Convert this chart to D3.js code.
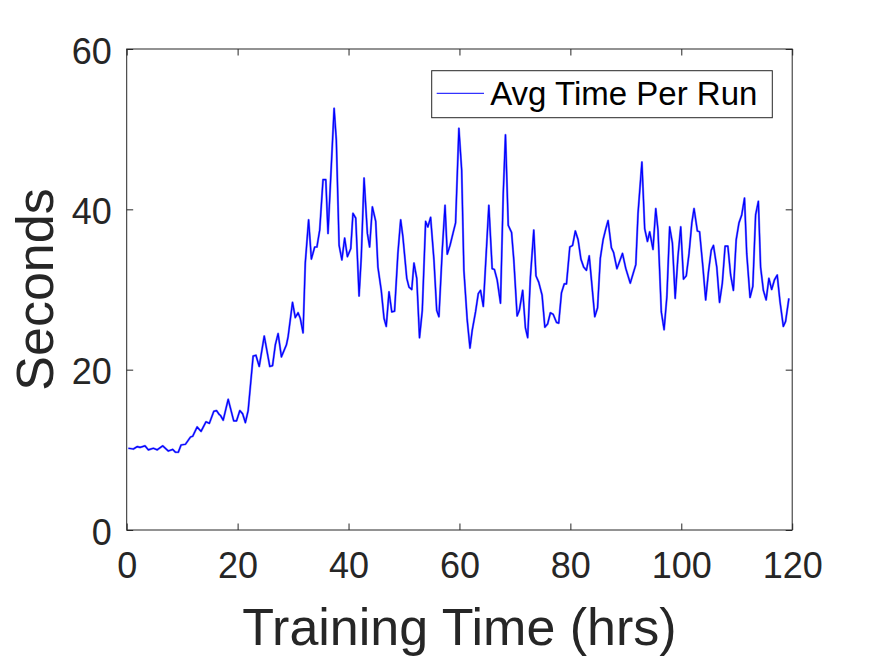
<!DOCTYPE html>
<html>
<head>
<meta charset="utf-8">
<script src="https://cdn.jsdelivr.net/npm/d3@7"></script>
<style>
  body { margin: 0; background: #fff; }
  text { font-family: "Liberation Sans", Arial, Helvetica, sans-serif; }
</style>
</head>
<body>
<svg></svg>
<script>
// размеры окна
const width = 875;
const height = 656;

// данные: время обучения (часы) и среднее время забега (сек)
const hours = [
  0.3, 1.2, 1.9, 2.4, 3.3, 3.9, 4.8, 5.5, 6.5, 7.5, 8.3, 8.8, 9.3, 9.8,
  10.6, 11.5, 11.9, 12.7, 13.4, 14.3, 14.9, 15.7, 16.2, 16.7, 16.9, 17.4,
  18.3, 19.3, 19.8, 20.4, 20.9, 21.4, 21.9, 22.8, 23.3, 23.9, 24.8, 25.8,
  26.3, 26.8, 27.3, 27.9, 28.8, 29.1, 29.9, 30.4, 30.9, 31.3, 31.8, 32.2,
  32.8, 33.3, 33.9, 34.3, 34.8, 35.4, 35.9, 36.3, 37.4, 37.8, 38.3, 38.8,
  39.3, 39.8, 40.4, 40.8, 41.3, 41.9, 42.3, 42.8, 43.4, 43.8, 44.3, 44.9,
  45.3, 45.9, 46.4, 46.8, 47.3, 47.8, 48.3, 48.9, 49.4, 49.8, 50.5, 50.9,
  51.4, 51.8, 52.3, 52.8, 53.3, 53.9, 54.3, 54.8, 55.4, 55.9, 56.3, 56.9,
  57.4, 57.8, 58.3, 58.9, 59.3, 59.9, 60.4, 60.8, 61.4, 61.9, 62.3, 62.9,
  63.4, 63.8, 64.3, 65.3, 65.9, 66.3, 66.8, 67.4, 67.9, 68.3, 68.8, 69.4,
  69.8, 70.4, 70.8, 71.4, 71.9, 72.3, 72.8, 73.4, 73.8, 74.3, 74.9, 75.4,
  75.9, 76.4, 76.9, 77.5, 77.9, 78.4, 78.9, 79.3, 79.9, 80.4, 80.9, 81.4,
  81.9, 82.4, 82.9, 83.4, 83.8, 84.4, 84.9, 85.4, 85.9, 86.4, 86.8, 87.4,
  87.8, 88.4, 89.4, 90.0, 90.8, 91.8, 92.2, 92.9, 93.4, 93.9, 94.3, 94.9,
  95.4, 95.8, 96.4, 96.9, 97.4, 97.9, 98.4, 98.9, 99.4, 99.9, 100.4, 100.9,
  101.4, 101.9, 102.3, 102.9, 103.3, 103.9, 104.4, 104.9, 105.4, 105.8,
  106.4, 106.9, 107.4, 107.9, 108.4, 108.9, 109.4, 109.9, 110.4, 110.9,
  111.4, 111.8, 112.4, 112.9, 113.4, 113.9, 114.3, 114.8, 115.3, 115.8,
  116.3, 116.8, 117.3, 117.8, 118.4, 118.8, 119.4
];
const seconds = [
  10.2, 10.1, 10.4, 10.3, 10.5, 10.0, 10.2, 10.0, 10.5, 9.85, 10.05, 9.7, 9.7, 10.6,
  10.7, 11.6, 11.7, 12.85, 12.3, 13.5, 13.3, 14.8, 14.9, 14.4, 14.3, 13.7,
  16.3, 13.6, 13.6, 14.9, 14.5, 13.4, 14.9, 21.7, 21.8, 20.4, 24.2, 20.4,
  20.5, 23.1, 24.5, 21.6, 23.1, 24.1, 28.4, 26.5, 27.1, 26.4, 24.6, 33.3,
  38.7, 33.8, 35.3, 35.3, 37.4, 43.7, 43.7, 37.0, 52.6, 48.6, 35.5, 33.7,
  36.4, 34.1, 35.1, 39.5, 38.9, 29.2, 34.1, 43.9, 37.0, 35.3, 40.3, 38.5,
  32.8, 29.9, 26.4, 25.4, 29.7, 27.2, 27.3, 34.5, 38.7, 36.6, 31.4, 30.3,
  30.0, 33.3, 31.4, 24.0, 27.4, 38.5, 37.8, 39.0, 33.7, 27.4, 26.6, 34.9,
  40.5, 34.4, 35.5, 37.2, 38.3, 50.1, 44.9, 32.4, 26.2, 22.7, 24.9, 27.2,
  29.5, 29.9, 27.9, 40.5, 32.6, 32.5, 31.2, 28.3, 42.0, 49.3, 38.0, 37.1,
  33.7, 26.7, 27.4, 29.9, 25.2, 24.0, 31.6, 37.4, 31.7, 30.9, 29.3, 25.3,
  25.7, 27.1, 26.9, 25.9, 25.8, 29.6, 30.7, 30.7, 35.3, 35.5, 37.3, 36.2,
  33.8, 32.8, 32.4, 34.2, 31.2, 26.6, 27.7, 33.9, 36.2, 37.6, 38.6, 35.2,
  34.6, 32.6, 34.5, 32.6, 30.8, 33.1, 39.5, 45.9, 37.6, 36.0, 37.2, 35.0,
  40.1, 37.4, 27.2, 25.0, 29.1, 37.8, 35.8, 28.9, 34.1, 37.8, 31.3, 31.7,
  34.5, 38.3, 40.1, 37.3, 37.2, 32.8, 28.7, 32.2, 34.9, 35.5,
  32.8, 28.4, 30.8, 35.4, 35.4, 31.8, 29.9, 36.2, 38.3, 39.3,
  41.4, 34.5, 29.0, 30.4, 39.3, 41.0, 32.8, 29.9, 28.7, 31.4,
  30.0, 31.2, 31.8, 28.5, 25.4, 26.0, 28.9
];
const xTicks = [0, 20, 40, 60, 80, 100, 120];
const yTicks = [0, 20, 40, 60];
const seriesName = "Avg Time Per Run";

const axisColor = "#262626";
const margin = { left: 126.7, right: 875 - 792.2, top: 49, bottom: 656 - 530 };
const plotW = width - margin.left - margin.right;
const plotH = height - margin.top - margin.bottom;

let svg = d3.select("svg")
    .attr("width", width)
    .attr("height", height);

let x = d3.scaleLinear().domain([0, 120]).range([0, plotW]);
let y = d3.scaleLinear().domain([0, 60]).range([plotH, 0]);

let g = svg.append("g").attr("transform", `translate(${margin.left},${margin.top})`);

// линия данных
const data = hours.map((h, i) => ({ h: h, v: seconds[i] }));
const line = d3.line().x(d => x(d.h)).y(d => y(d.v));
g.append("path")
    .attr("d", line(data))
    .attr("fill", "none")
    .attr("stroke", "#7f7fff")
    .attr("stroke-width", 2.2)
    .attr("stroke-linejoin", "round");
g.append("path")
    .attr("d", line(data))
    .attr("fill", "none")
    .attr("stroke", "#0000ff")
    .attr("stroke-width", 1.2)
    .attr("stroke-linejoin", "round");

// оси (тики внутрь)
function styleAxis(sel) {
    sel.select(".domain").remove();
    sel.selectAll(".tick line").attr("stroke", axisColor);
    sel.selectAll(".tick text")
        .attr("fill", axisColor)
        .style("font-size", "36px");
}

g.append("g")
    .attr("transform", `translate(0,${plotH})`)
    .call(d3.axisBottom(x).tickValues(xTicks).tickSize(-6.5).tickSizeOuter(0).tickPadding(22))
    .call(styleAxis);
g.append("g")
    .call(d3.axisTop(x).tickValues(xTicks).tickSize(-6.5).tickSizeOuter(0).tickFormat(""))
    .call(styleAxis);
g.append("g")
    .call(d3.axisLeft(y).tickValues(yTicks).tickSize(-6.5).tickSizeOuter(0).tickPadding(15))
    .call(styleAxis)
    .selectAll(".tick text").attr("dy", "0.39em");
g.append("g")
    .attr("transform", `translate(${plotW},0)`)
    .call(d3.axisRight(y).tickValues(yTicks).tickSize(-6.5).tickSizeOuter(0).tickFormat(""))
    .call(styleAxis);

// рамка
g.append("rect")
    .attr("width", plotW).attr("height", plotH)
    .attr("fill", "none")
    .attr("stroke", axisColor)
    .attr("stroke-width", 1);

// подписи осей
svg.append("text")
    .attr("x", margin.left + plotW / 2)
    .attr("y", 645)
    .attr("text-anchor", "middle")
    .attr("fill", axisColor)
    .style("font-size", "52px")
    .text("Training Time (hrs)");
svg.append("text")
    .attr("transform", `translate(53,${margin.top + plotH / 2}) rotate(-90)`)
    .attr("text-anchor", "middle")
    .attr("fill", axisColor)
    .style("font-size", "52px")
    .text("Seconds");

// легенда
let legend = svg.append("g").attr("transform", "translate(431.7,70.7)");
legend.append("rect")
    .attr("width", 340.6).attr("height", 47)
    .attr("fill", "#fff")
    .attr("stroke", axisColor)
    .attr("stroke-width", 1);
legend.append("line")
    .attr("x1", 5).attr("x2", 52.3)
    .attr("y1", 22.6).attr("y2", 22.6)
    .attr("stroke", "#0000ff")
    .attr("stroke-width", 1);
legend.append("text")
    .attr("x", 58.5).attr("y", 34.5)
    .attr("fill", "#000")
    .style("font-size", "33px")
    .text(seriesName);
</script>
</body>
</html>
